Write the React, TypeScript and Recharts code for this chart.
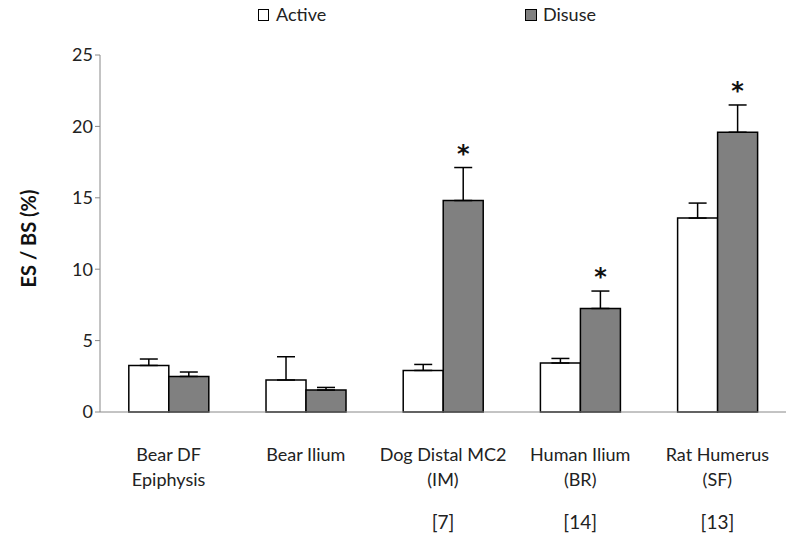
import React from 'react';
import { BarChart, Bar, XAxis, YAxis, ErrorBar, LabelList } from 'recharts';

const categories = ['Bear DF|Epiphysis', 'Bear Ilium', 'Dog Distal MC2|(IM)', 'Human Ilium|(BR)', 'Rat Humerus|(SF)'];
const refs = ['', '', '[7]', '[14]', '[13]'];
const activeValues = [3.26, 2.24, 2.91, 3.43, 13.58];
const activeErrors = [0.45, 1.63, 0.42, 0.32, 1.05];
const disuseValues = [2.49, 1.54, 14.81, 7.25, 19.59];
const disuseErrors = [0.31, 0.18, 2.31, 1.22, 1.91];
const significance = ['', '', '*', '*', '*'];
const yTicks = [0, 5, 10, 15, 20, 25];
const seriesNames = ['Active', 'Disuse'];

const data = categories.map((c, i) => ({
  name: c,
  active: activeValues[i],
  activeErr: [0, activeErrors[i]],
  disuse: disuseValues[i],
  disuseErr: [0, disuseErrors[i]],
}));

const FONT = 'Lato, "Open Sans", sans-serif';

function renderCategoryTick(props: any) {
  const { x, y, payload, index } = props;
  const lines = String(payload.value).split('|');
  const r = refs[index];
  return (
    <g key={`t-${index}`}>
      {lines.map((l: string, k: number) => (
        <text key={k} x={x} y={y + 41 + k * 25} textAnchor="middle" fontSize={18} fontFamily={FONT} fill="#222">
          {l}
        </text>
      ))}
      {r ? (
        <text x={x} y={y + 109} textAnchor="middle" fontSize={19} fontFamily={FONT} fill="#222">
          {r}
        </text>
      ) : null}
    </g>
  );
}

function renderStar(props: any) {
  const { x, y, width, height, index, value } = props;
  const s = significance[index];
  if (!s) return null;
  const pxPerUnit = Number(height) / Number(value);
  const errTop = Number(y) - disuseErrors[index] * pxPerUnit;
  return (
    <text key={`s-${index}`} x={Number(x) + Number(width) / 2} y={errTop - 6} textAnchor="middle" fontSize={24} fontWeight="bold" fontFamily='"DejaVu Sans", sans-serif' fill="#111">
      {s}
    </text>
  );
}

export default function App() {
  return (
    <div style={{ position: 'absolute', left: 0, top: 0, width: 794, height: 534, background: '#fff' }}>
      <svg width={794} height={30} style={{ position: 'absolute', left: 0, top: 0, zIndex: 2 }}>
        <rect x={258.5} y={9.5} width={10} height={11} fill="#fff" stroke="#000" strokeWidth={1} />
        <text x={276} y={21} fontSize={18} fontFamily={FONT} fill="#222">{seriesNames[0]}</text>
        <rect x={525.5} y={9.5} width={11} height={11} fill="#808080" stroke="#000" strokeWidth={1} />
        <text x={543} y={21} fontSize={18} fontFamily={FONT} fill="#222">{seriesNames[1]}</text>
      </svg>
      <BarChart
        width={794}
        height={534}
        data={data}
        margin={{ top: 55, right: 8, bottom: 92, left: 40 }}
        barGap={0}
        barCategoryGap="21%"
      >
        <XAxis dataKey="name" stroke="#888" tickLine={false} tick={renderCategoryTick} interval={0} />
        <YAxis
          width={60}
          domain={[0, 25]}
          ticks={yTicks}
          stroke="#888"
          tickSize={5}
          tick={{ fontSize: 18, fontFamily: FONT, fill: '#222' }}
          label={{
            value: 'ES / BS (%)',
            angle: -90,
            position: 'insideLeft',
            dx: -16,
            dy: 5,
            style: { fontSize: 20, fontWeight: 'bold', fontFamily: FONT, fill: '#111', textAnchor: 'middle' },
          }}
        />
        <Bar dataKey="active" name={seriesNames[0]} fill="#ffffff" stroke="#000" strokeWidth={1.5} isAnimationActive={false}>
          <ErrorBar dataKey="activeErr" width={9} stroke="#000" strokeWidth={1.5} direction="y" />
        </Bar>
        <Bar dataKey="disuse" name={seriesNames[1]} fill="#808080" stroke="#000" strokeWidth={1.5} isAnimationActive={false}>
          <ErrorBar dataKey="disuseErr" width={9} stroke="#000" strokeWidth={1.5} direction="y" />
          <LabelList dataKey="disuse" content={renderStar} />
        </Bar>
      </BarChart>
    </div>
  );
}
